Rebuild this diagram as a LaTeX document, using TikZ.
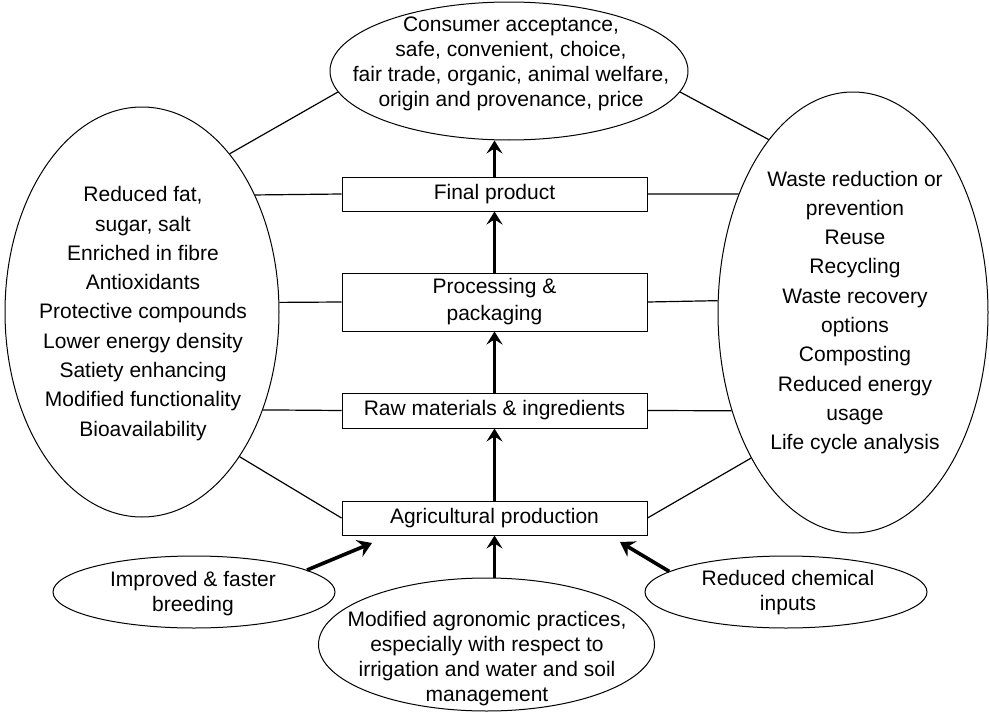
\documentclass[tikz,border=0pt]{standalone}
\usepackage{fontspec}
\setmainfont{Liberation Sans}
\usetikzlibrary{shapes.geometric,arrows.meta}
\begin{document}
\begin{tikzpicture}[x=1pt,y=-1pt,
  bubble/.style={draw, ellipse, line width=1pt, inner sep=0pt},
  stage/.style={draw, rectangle, line width=1pt, minimum width=305pt, inner sep=0pt, align=center, font=\fontsize{21}{27}\selectfont},
  txt/.style={align=center, inner sep=0pt},
  tight/.style={font=\fontsize{21}{25}\selectfont},
  loose/.style={font=\fontsize{21}{29.3}\selectfont},
  link/.style={line width=1.2pt},
  flow/.style={line width=2.6pt, -{Stealth[length=13pt,width=16pt,inset=5pt]}},
  feed/.style={line width=3.6pt, -{Stealth[length=14pt,width=18pt,inset=5pt]}}]
\useasboundingbox (0,0) rectangle (989,712);

% top ellipse
\node[bubble, minimum width=358pt, minimum height=138pt] (T) at (509,71) {};
\node[txt, tight] (Tt) at (511,64) {Consumer acceptance,\\ safe, convenient, choice,\\ fair trade, organic, animal welfare,\\ origin and provenance, price};

% left ellipse
\node[bubble, minimum width=274pt, minimum height=410pt] (L) at (142,312) {};
\node[txt, loose] (Lt) at (143,313.5) {Reduced fat,\\ sugar, salt\\ Enriched in fibre\\ Antioxidants\\ Protective compounds\\ Lower energy density\\ Satiety enhancing\\ Modified functionality\\ Bioavailability};

% right ellipse
\node[bubble, minimum width=270pt, minimum height=441pt] (R) at (853,312.5) {};
\node[txt, loose] (Rt) at (855,312.5) {Waste reduction or\\ prevention\\ Reuse\\ Recycling\\ Waste recovery\\ options\\ Composting\\ Reduced energy\\ usage\\ Life cycle analysis};

% stages
\node[stage, minimum height=34pt] (F) at (494.5,194) {Final product};
\node[stage, minimum height=58pt] (P) at (494.5,302) {Processing \&\\ packaging};
\node[stage, minimum height=35pt] (W) at (494.5,410.5) {Raw materials \& ingredients};
\node[stage, minimum height=34pt] (A) at (494.5,518) {Agricultural production};

% bottom ellipses
\node[bubble, minimum width=282pt, minimum height=72pt] (BL) at (194,592) {};
\node[txt, tight] (BLt) at (193,594) {Improved \& faster\\ breeding};
\node[bubble, minimum width=282pt, minimum height=72pt] (BR) at (786,592) {};
\node[txt, tight] (BRt) at (788,592.5) {Reduced chemical\\ inputs};
\node[bubble, minimum width=336pt, minimum height=133pt] (BC) at (486.5,644.5) {};
\node[txt, tight] (BCt) at (487,659) {Modified agronomic practices,\\ especially with respect to\\ irrigation and water and soil\\ management};

% links
\draw[link] (L.61) -- (T.187.7);
\draw[link] (R.116.8) -- (T.-7.1);
\draw[link] (L.46.5) -- (F.west);
\draw[link] (R.134.2) -- (F.east);
\draw[link] (L.4.2) -- (P.west);
\draw[link] (R.175.8) -- (P.east);
\draw[link] (L.-39.2) -- (W.west);
\draw[link] (R.-141.2) -- (W.east);
\draw[link] (L.-56.7) -- (A.west);
\draw[link] (R.-125.1) -- (A.east);

% flow arrows
\draw[flow] (A.north) -- (W.south);
\draw[flow] (W.north) -- (P.south);
\draw[flow] (P.north) -- (F.south);
\draw[flow] (F.north) -- (F.north |- T.south);
\draw[flow] (A.south |- BC.north) -- (A.south);

% feed arrows
\coordinate (BLtip) at (372,543);
\coordinate (BRtip) at (620,542);
\draw[feed] (BL.11) -- (BLtip);
\draw[feed] (BR.170) -- (BRtip);
\end{tikzpicture}
\end{document}
